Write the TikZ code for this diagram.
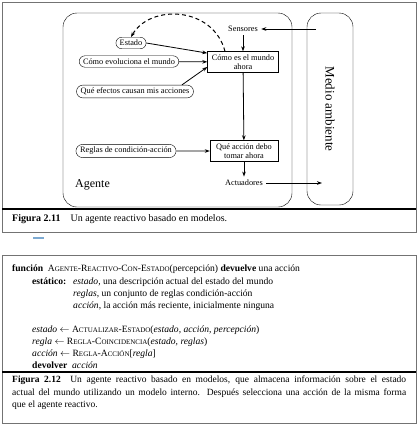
\documentclass[tikz,border=0pt]{standalone}
\usepackage{fontspec}
\setmainfont{Liberation Serif}
\usetikzlibrary{arrows.meta,shapes.misc}
\tikzset{>/.tip={Stealth[length=5pt,width=3.6pt]}}
\newcommand\smc[1]{{\fontsize{7}{8}\selectfont\MakeUppercase{#1}}}

\begin{document}
\begin{tikzpicture}[x=1pt,y=-1pt,
  oval/.style={draw,rounded rectangle,inner xsep=3pt,inner ysep=2.8pt,font=\fontsize{8.3}{9}\selectfont},
  caja/.style={draw,align=center,inner sep=1pt,font=\fontsize{8.3}{9}\selectfont},
  etiq/.style={font=\fontsize{8.3}{9}\selectfont},
  codigo/.style={anchor=base west,inner sep=0pt,font=\fontsize{9.6}{11}\selectfont},
  marco/.style={draw=black!55,line width=0.5pt},
  raya/.style={line width=1.8pt},
  flecha/.style={->,line width=0.8pt}]
\useasboundingbox (0,0) rectangle (419,426);
\fill[white] (0,0) rectangle (419,426);

\draw[marco] (2,2) rectangle (416,232);
\draw[raya] (2,209) to (416,209);
\draw[line width=1.6pt,draw={rgb,255:red,125;green,170;blue,210}] (33,238) to (44,238);
\draw[marco] (2,255) rectangle (416,423);
\draw[raya] (2,372) to (416,372);

\node[draw,rounded corners=14pt,minimum width=229pt,minimum height=194pt] (agente) at (177.5,110) {};
\node[draw,rounded corners=14pt,rotate=-90,minimum width=192pt,minimum height=46pt,
  font=\fontsize{13}{15}\selectfont] (medio) at (330,109) {Medio ambiente};
\node[anchor=base west,inner sep=0pt,font=\fontsize{12}{14}\selectfont] (agente-t) at (75,187) {Agente};

\coordinate (s-in) at (316,29);
\coordinate (a-out) at (322,183);
\node[etiq] (sens) at (243,29) {Sensores};
\node[caja,minimum width=71pt,minimum height=21pt] (mundo) at (243,62) {Cómo es el mundo\\ahora};
\node[caja,minimum width=68pt,minimum height=21pt] (accion) at (244,151) {Qué acción debo\\tomar ahora};
\node[etiq] (act) at (244,183) {Actuadores};
\node[oval] (estado) at (131,43) {Estado};
\node[oval] (evol) at (129,61.5) {Cómo evoluciona el mundo};
\node[oval] (efectos) at (135,91.5) {Qué efectos causan mis acciones};
\node[oval] (reglas) at (126,151) {Reglas de condición-acción};

\draw[flecha] (s-in) to (sens);
\draw[flecha] (sens) to (mundo);
\draw[flecha] (mundo) to (accion);
\draw[flecha] (accion) to (act);
\draw[flecha] (act) to (a-out);
\draw[flecha] (estado.east) to (mundo.166);
\draw[flecha] (evol) to (mundo);
\draw[flecha] (efectos.8) to (mundo.188);
\draw[flecha] (reglas) to (accion);
\draw[flecha,line width=1pt,dash pattern=on 4pt off 3pt] ([xshift=-18pt]mundo.north)
  .. controls (213,6) and (150,4) .. (estado.north);

\node[anchor=base west,inner sep=0pt,font=\fontsize{10}{12}\selectfont] (cap1) at (12,221)
  {\textbf{Figura 2.11}\quad Un agente reactivo basado en modelos.};

\node[codigo] (l1) at (12,271) {\textbf{función}\enspace A\smc{gente}-R\smc{eactivo}-C\smc{on}-E\smc{stado}(percepción) \textbf{devuelve} una acción};
\node[codigo] (l2) at (32,284) {\textbf{estático:}};
\node[codigo] (l2b) at (73,284) {\textit{estado}, una descripción actual del estado del mundo};
\node[codigo] (l3) at (73,296) {\textit{reglas}, un conjunto de reglas condición-acción};
\node[codigo] (l4) at (73,308) {\textit{acción}, la acción más reciente, inicialmente ninguna};
\node[codigo] (l5) at (32,332) {\textit{estado} $\leftarrow$ A\smc{ctualizar}-E\smc{stado}(\textit{estado, acción, percepción})};
\node[codigo] (l6) at (32,344) {\textit{regla} $\leftarrow$ R\smc{egla}-C\smc{oincidencia}(\textit{estado, reglas})};
\node[codigo] (l7) at (32,356) {\textit{acción} $\leftarrow$ R\smc{egla}-A\smc{cción}[\textit{regla}]};
\node[codigo] (l8) at (32,368) {\textbf{devolver}\enspace\textit{acción}};

\node[anchor=north west,inner sep=0pt,text width=394pt,align=justify,
  font=\fontsize{9.5}{12.5}\selectfont] (cap2) at (12,376)
  {\textbf{Figura 2.12}\quad Un agente reactivo basado en modelos, que almacena información sobre el estado\linebreak
   actual del mundo utilizando un modelo interno. Después selecciona una acción de la misma forma\linebreak
   que el agente reactivo.};
\end{tikzpicture}
\end{document}
